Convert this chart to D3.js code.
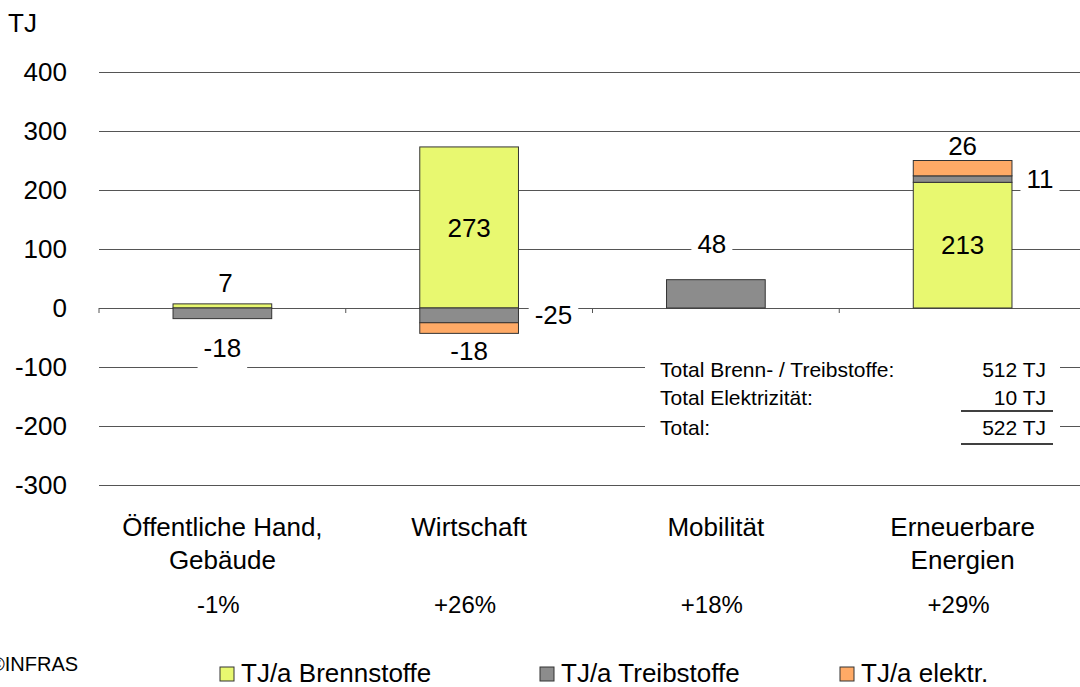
<!DOCTYPE html>
<html lang="de">
<head>
  <meta charset="UTF-8">
  <title>Energieverbrauch nach Sektor</title>
  <script src="https://d3js.org/d3.v7.min.js"></script>
  <style>
    body { margin: 0; background: #fff; }
    svg { display: block; font-family: "Liberation Sans", Arial, sans-serif; }
  </style>
</head>
<body>
  <svg id="chart" width="1080" height="687"></svg>

  <script>
    // --- data ---
    const categories = ["Öffentliche Hand, Gebäude", "Wirtschaft", "Mobilität", "Erneuerbare Energien"];
    const categoryLines = [["Öffentliche Hand,", "Gebäude"], ["Wirtschaft"], ["Mobilität"], ["Erneuerbare", "Energien"]];
    const changes = ["-1%", "+26%", "+18%", "+29%"];

    const seriesNames = ["TJ/a Brennstoffe", "TJ/a Treibstoffe", "TJ/a elektr."];
    const brennstoffe = [7, 273, 0, 213];
    const treibstoffe = [-18, -25, 48, 11];
    const elektr = [0, -18, 0, 26];

    const yTicks = [-300, -200, -100, 0, 100, 200, 300, 400];

    const totalLabels = ["Total Brenn- / Treibstoffe:", "Total Elektrizität:", "Total:"];
    const totalValues = ["512 TJ", "10 TJ", "522 TJ"];

    // value labels: which segment, and how the label sits next to it
    const valueLabels = [
      {cat: 0, s: 0, text: "7",   pos: "top",    dx: 3,  dy: -21, bg: false},
      {cat: 0, s: 1, text: "-18", pos: "bottom", dx: 0,  dy: 29,  bg: true},
      {cat: 1, s: 0, text: "273", pos: "mid",    dx: 0,  dy: 0,   bg: false},
      {cat: 1, s: 1, text: "-25", pos: "right",  dx: 35, dy: 0,   bg: true},
      {cat: 1, s: 2, text: "-18", pos: "bottom", dx: 0,  dy: 18,  bg: false},
      {cat: 2, s: 1, text: "48",  pos: "top",    dx: -4, dy: -36, bg: true},
      {cat: 3, s: 0, text: "213", pos: "mid",    dx: 0,  dy: 0,   bg: false},
      {cat: 3, s: 1, text: "11",  pos: "right",  dx: 28, dy: 0,   bg: true},
      {cat: 3, s: 2, text: "26",  pos: "top",    dx: 0,  dy: -15, bg: false}
    ];

    const colors = ["#e8f870", "#8c8c8c", "#ffaa66"];

    // --- setup ---
    const svg = d3.select("#chart");
    const plot = {left: 99, right: 1086, top: 72, bottom: 485};

    const x = d3.scaleBand()
      .domain(categories)
      .range([plot.left, plot.right])
      .padding(0);
    const barW = x.bandwidth() * 0.4;
    const barX = c => x(c) + (x.bandwidth() - barW) / 2;

    const y = d3.scaleLinear()
      .domain([-300, 400])
      .range([plot.bottom, plot.top]);

    const table = categories.map((c, i) => ({
      cat: c,
      [seriesNames[0]]: brennstoffe[i],
      [seriesNames[1]]: treibstoffe[i],
      [seriesNames[2]]: elektr[i]
    }));
    const stacked = d3.stack()
      .keys(seriesNames)
      .offset(d3.stackOffsetDiverging)(table);

    // gridlines + y labels (plain hyphen for negatives, like the original)
    const yAxis = svg.append("g")
      .attr("transform", `translate(${plot.left},0)`)
      .call(d3.axisLeft(y)
        .tickValues(yTicks)
        .tickFormat(d => String(d))
        .tickSize(-(plot.right - plot.left))
        .tickPadding(32));
    yAxis.select(".domain").remove();
    yAxis.selectAll(".tick line").attr("stroke", "#555").attr("stroke-width", 1);
    yAxis.selectAll(".tick text")
      .attr("fill", "#000")
      .style("font-size", "26px");

    // small ticks on zero line at category boundaries
    const bounds = categories.map(c => x(c)).concat([plot.right]);
    svg.append("g").selectAll("line")
      .data(bounds)
      .join("line")
      .attr("x1", d => d).attr("x2", d => d)
      .attr("y1", y(0)).attr("y2", y(0) + 5)
      .attr("stroke", "#555");

    // unit
    svg.append("text")
      .attr("x", 8).attr("y", 32)
      .style("font-size", "26px")
      .text("TJ");

    // label backgrounds layer (under bars and text)
    const bgLayer = svg.append("g");

    // totals box
    const totY = [y(-100) + 3, y(-100) + 31, y(-100) + 61];
    svg.append("rect")
      .attr("x", 645).attr("y", totY[0] - 16)
      .attr("width", 415).attr("height", totY[2] - totY[0] + 30)
      .attr("fill", "#fff");
    const totG = svg.append("g").style("font-size", "21px");
    totG.selectAll("text.lab")
      .data(totalLabels)
      .join("text")
      .attr("class", "lab")
      .attr("x", 660)
      .attr("y", (d, i) => totY[i])
      .attr("dy", "0.35em")
      .text(d => d);
    totG.selectAll("text.val")
      .data(totalValues)
      .join("text")
      .attr("class", "val")
      .attr("x", 1046)
      .attr("y", (d, i) => totY[i])
      .attr("dy", "0.35em")
      .attr("text-anchor", "end")
      .text(d => d);
    [totY[1] + 13, totY[2] + 16].forEach(ly => {
      totG.append("line")
        .attr("x1", 961).attr("x2", 1053)
        .attr("y1", ly).attr("y2", ly)
        .attr("stroke", "#000").attr("stroke-width", 1.3);
    });

    // bars
    svg.append("g")
      .selectAll("g")
      .data(stacked)
      .join("g")
      .attr("fill", (d, i) => colors[i])
      .selectAll("rect")
      .data(d => d.filter(p => p[1] - p[0] !== 0))
      .join("rect")
      .attr("x", d => barX(d.data.cat))
      .attr("y", d => y(Math.max(d[0], d[1])))
      .attr("width", barW)
      .attr("height", d => Math.abs(y(d[0]) - y(d[1])))
      .attr("stroke", "#333")
      .attr("stroke-width", 1);

    // value labels
    const labG = svg.append("g").style("font-size", "26px");
    valueLabels.forEach(l => {
      const seg = stacked[l.s][l.cat];
      const c = categories[l.cat];
      let cx = barX(c) + barW / 2, cy;
      if (l.pos === "top") cy = y(Math.max(seg[0], seg[1]));
      else if (l.pos === "bottom") cy = y(Math.min(seg[0], seg[1]));
      else cy = y((seg[0] + seg[1]) / 2);
      if (l.pos === "right") cx = barX(c) + barW;
      cx += l.dx;
      cy += l.dy;
      const t = labG.append("text")
        .attr("x", cx).attr("y", cy)
        .attr("dy", "0.35em")
        .attr("text-anchor", "middle")
        .text(l.text);
      if (l.bg) {
        const b = t.node().getBBox();
        bgLayer.append("rect")
          .attr("x", b.x - 6).attr("y", b.y - 6)
          .attr("width", b.width + 12).attr("height", b.height + 12)
          .attr("fill", "#fff");
      }
    });

    // category labels and changes
    const catG = svg.append("g").style("font-size", "26px").attr("text-anchor", "middle");
    categories.forEach((c, i) => {
      const cx = x(c) + x.bandwidth() / 2;
      categoryLines[i].forEach((line, j) => {
        catG.append("text")
          .attr("x", cx).attr("y", 536 + j * 33)
          .text(line);
      });
      catG.append("text")
        .attr("x", cx - 4).attr("y", 613)
        .style("font-size", "24px")
        .text(changes[i]);
    });

    // source
    svg.append("text")
      .attr("x", -10).attr("y", 671)
      .style("font-size", "20px")
      .text("©INFRAS");

    // legend
    const legendX = [220, 540, 840];
    const leg = svg.append("g")
      .selectAll("g")
      .data(seriesNames)
      .join("g")
      .attr("transform", (d, i) => `translate(${legendX[i]},667)`);
    leg.append("rect")
      .attr("width", 14).attr("height", 14)
      .attr("fill", (d, i) => colors[i])
      .attr("stroke", "#333");
    leg.append("text")
      .attr("x", 21).attr("y", 15)
      .style("font-size", "26px")
      .text(d => d);
  </script>
</body>
</html>
